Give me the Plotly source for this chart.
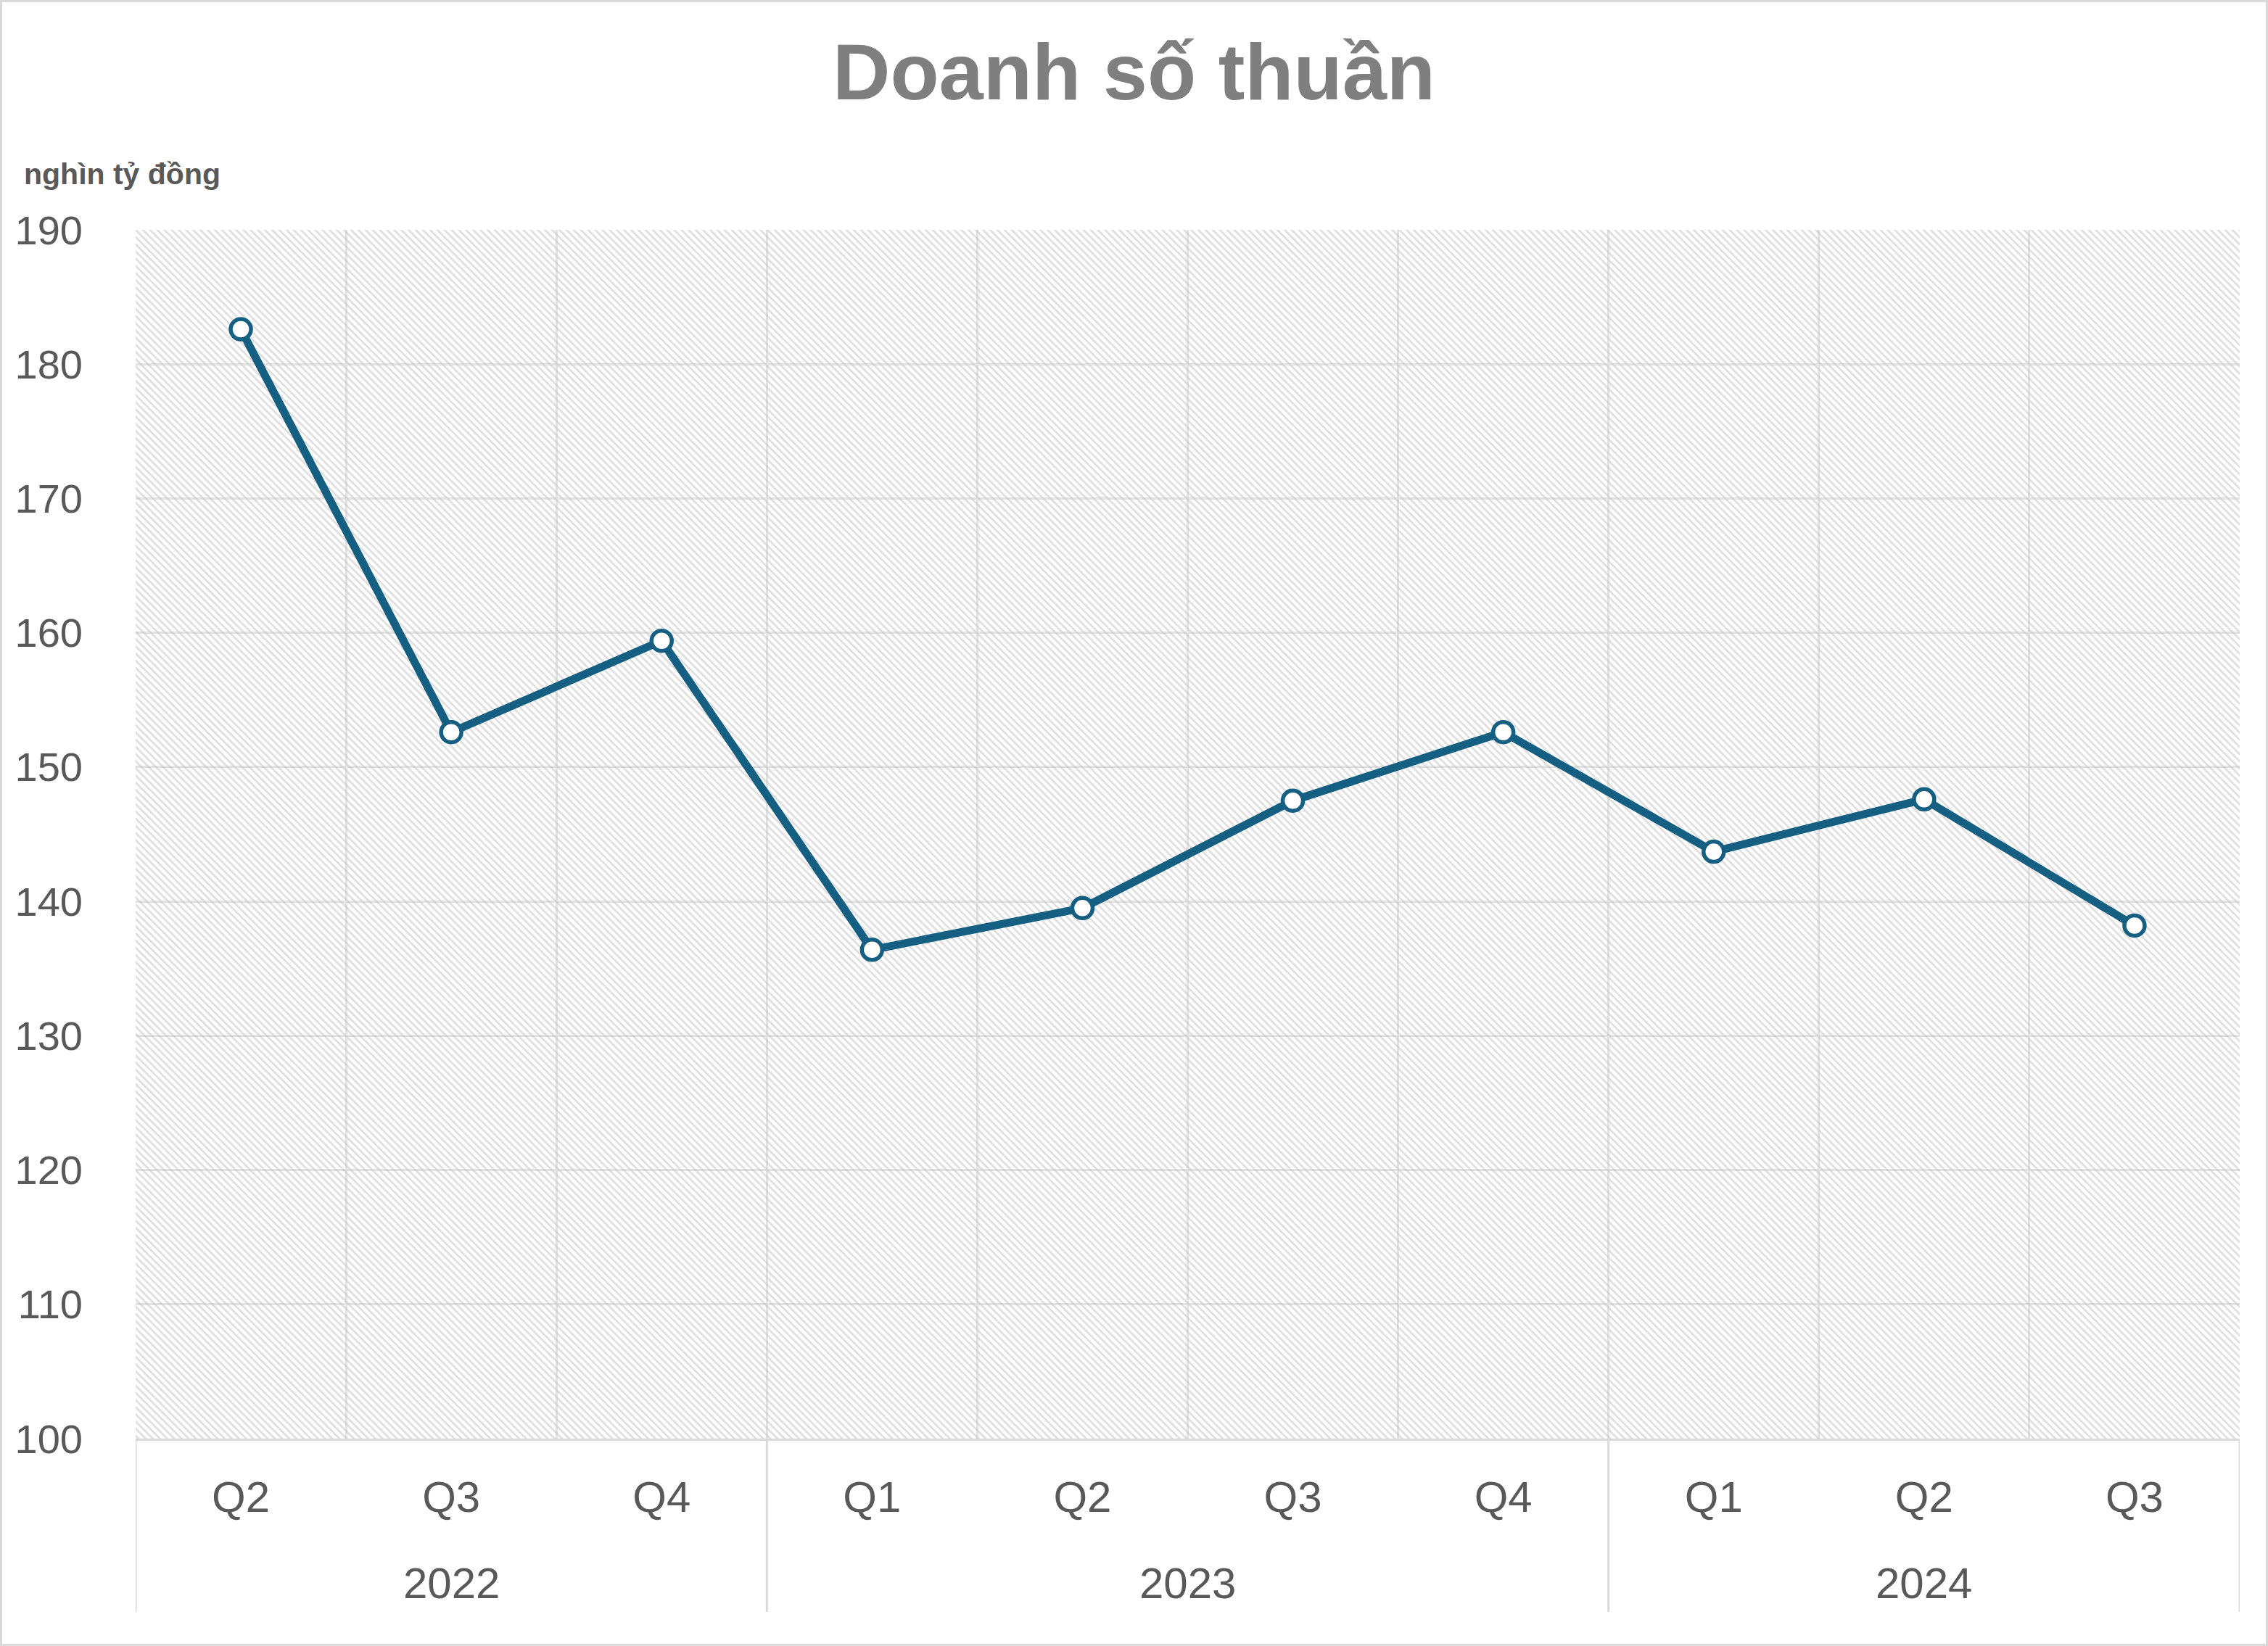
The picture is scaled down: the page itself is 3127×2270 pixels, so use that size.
import plotly.graph_objects as go

# ---- data ----
years = ["2022", "2022", "2022", "2023", "2023", "2023", "2023", "2024", "2024", "2024"]
quarters = ["Q2", "Q3", "Q4", "Q1", "Q2", "Q3", "Q4", "Q1", "Q2", "Q3"]
net_sales = [182.6, 152.6, 159.4, 136.4, 139.5, 147.5, 152.6, 143.7, 147.6, 138.2]
y_ticks = [100, 110, 120, 130, 140, 150, 160, 170, 180, 190]

title_text = "Doanh số thuần"
unit_text = "nghìn tỷ đồng"

W, H = 3127, 2270
ML, MR, MT, MB = 187, 39, 317, 286
PW, PH = W - ML - MR, H - MT - MB

LINE_COLOR = "#155f82"
GRID = "#e3e3e3"
AXIS_GRAY = "#d9d9d9"
TEXT = "#595959"
FONT = "Liberation Sans, Arial, sans-serif"

# unique category keys (one per quarter), labelled with the quarter text
cat_keys = [f"{y} {q}" for y, q in zip(years, quarters)]

# year groups -> (year, first index, last index)
groups = []
for i, y in enumerate(years):
    if groups and groups[-1][0] == y:
        groups[-1][2] = i
    else:
        groups.append([y, i, i])

fig = go.Figure()

# hatched plot-area background (hidden base axes, drawn below the data layer)
fig.add_trace(go.Bar(
    x=[0.5], y=[1], width=[1], base=[0],
    xaxis="x", yaxis="y",
    marker=dict(color="rgba(0,0,0,0)", line=dict(width=0),
                pattern=dict(shape="\\", size=7, solidity=0.42,
                             fgcolor="#bfbfbf", bgcolor="rgba(0,0,0,0)",
                             fillmode="overlay")),
    hoverinfo="skip", showlegend=False,
))

# data line
fig.add_trace(go.Scatter(
    x=cat_keys, y=net_sales,
    xaxis="x2", yaxis="y2",
    mode="lines+markers",
    line=dict(color=LINE_COLOR, width=11),
    marker=dict(symbol="circle", size=28, color="white",
                line=dict(color=LINE_COLOR, width=5.5)),
    showlegend=False,
))

DIV_DEPTH = (2223 - (H - MB)) / PH
YEAR_Y = -(2183 - (H - MB)) / PH

shapes = [dict(
    type="rect", xref="paper", yref="paper",
    x0=(1.5 - ML) / PW, x1=1 + (MR - 1.5) / PW,
    y0=-(MB - 1.5) / PH, y1=1 + (MT - 1.5) / PH,
    line=dict(color=AXIS_GRAY, width=3), fillcolor="rgba(0,0,0,0)", layer="below",
)]
annotations = [dict(
    text=f"<b>{unit_text}</b>", xref="paper", yref="paper",
    x=(31 - ML) / PW, y=(H - MB - 240) / PH, xanchor="left", yanchor="middle",
    showarrow=False, font=dict(size=41, color=TEXT, family=FONT),
)]
for yr, i0, i1 in groups:
    annotations.append(dict(
        text=yr, xref="x2", yref="paper", x=(i0 + i1) / 2, y=YEAR_Y,
        xanchor="center", yanchor="middle", showarrow=False,
        font=dict(size=60, color=TEXT, family=FONT),
    ))
bounds = [g[1] - 0.5 for g in groups] + [groups[-1][2] + 0.5]
for b in bounds:
    shapes.append(dict(
        type="line", xref="x2", yref="paper", x0=b, x1=b, y0=0, y1=-DIV_DEPTH,
        line=dict(color=AXIS_GRAY, width=3), layer="below",
    ))

fig.update_layout(
    width=W, height=H,
    margin=dict(l=ML, r=MR, t=MT, b=MB, pad=0),
    paper_bgcolor="white", plot_bgcolor="white",
    font=dict(family=FONT, color=TEXT),
    bargap=0,
    title=dict(text=f"<b>{title_text}</b>", x=0.5, xanchor="center",
               xref="container", yref="container", y=1 - 98 / H, yanchor="middle",
               font=dict(size=110, color="#7f7f7f", family=FONT)),
    xaxis=dict(range=[0, 1], visible=False, fixedrange=True),
    yaxis=dict(range=[0, 1], visible=False, fixedrange=True),
    xaxis2=dict(type="category", overlaying="x", side="bottom",
                categoryorder="array", categoryarray=cat_keys,
                tickmode="array", tickvals=cat_keys, ticktext=quarters,
                range=[-0.5, len(cat_keys) - 0.5],
                tickson="boundaries", showgrid=True, gridcolor=GRID, gridwidth=3,
                showline=True, linecolor=AXIS_GRAY, linewidth=3,
                ticks="", tickfont=dict(size=60, color=TEXT, family=FONT),
                ticklabelstandoff=26),
    yaxis2=dict(overlaying="y", side="left", range=[100, 190],
                tickvals=y_ticks, showgrid=True, gridcolor=GRID, gridwidth=3,
                zeroline=False, showline=False, ticks="",
                tickfont=dict(size=56, color=TEXT, family=FONT),
                ticklabelstandoff=72),
    annotations=annotations,
    shapes=shapes,
)

fig.write_html("out.html", config={"displayModeBar": False},
               post_script="document.body.style.margin='0';")
